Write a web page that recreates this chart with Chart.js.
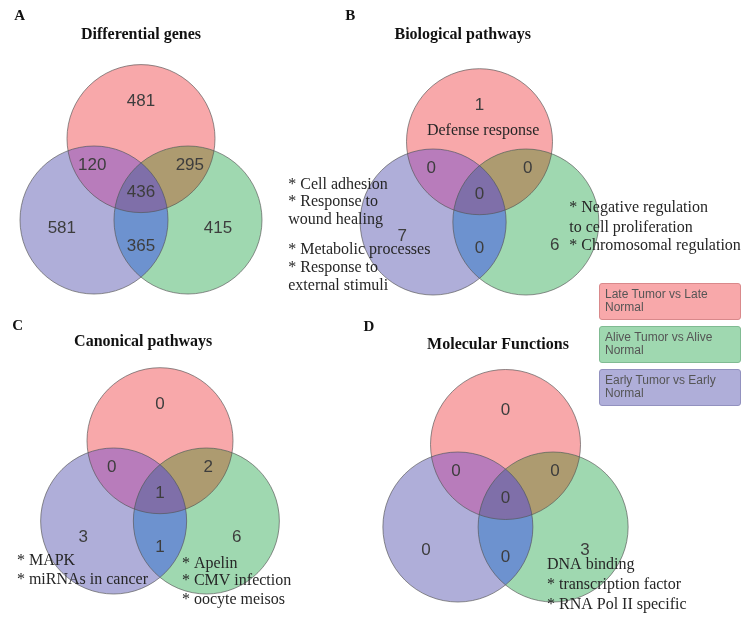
<!DOCTYPE html>
<html>
<head>
<meta charset="utf-8">
<script src="https://cdn.jsdelivr.net/npm/chart.js@4.4.1/dist/chart.umd.min.js"></script>
<style>
  html, body { margin: 0; padding: 0; background: #fff; }
  #wrap { position: relative; width: 744px; height: 617px; overflow: hidden; }
  #wrap canvas { position: absolute; left: 0; top: 0; }
  #legend { position: absolute; left: 599px; top: 283px; width: 142px; }
  #legend div {
    box-sizing: border-box; height: 37px; margin-bottom: 6px;
    border: 1px solid; border-radius: 3px; padding: 4px 0 0 5px;
    font: 12px/13px "Liberation Sans", Arial, sans-serif; color: #555;
  }
</style>
</head>
<body>
<div id="wrap">
  <canvas id="venn-a" width="744" height="617"></canvas>
  <canvas id="venn-b" width="744" height="617"></canvas>
  <canvas id="venn-c" width="744" height="617"></canvas>
  <canvas id="venn-d" width="744" height="617"></canvas>
  <div id="legend"></div>
</div>
<script>
/* ─── Data ───────────────────────────────────────────────────────────────── */
const setNames   = ['Late Tumor vs Late Normal', 'Alive Tumor vs Alive Normal', 'Early Tumor vs Early Normal'];
const setColors  = ['#f8a8aa', '#9fd8b0', '#afaed9'];
const setBorders = ['#d9898b', '#80bb92', '#9291bf'];

// region order: late only, alive only, early only, late+early, late+alive, early+alive, all three
const regionKeys = ['L', 'A', 'E', 'LE', 'LA', 'EA', 'LAE'];
const countsA = [481, 415, 581, 120, 295, 365, 436];
const countsB = [1, 6, 7, 0, 0, 0, 0];
const countsC = [0, 6, 3, 0, 2, 1, 1];
const countsD = [0, 3, 0, 0, 0, 0, 0];

const panelTitles  = ['Differential genes', 'Biological pathways', 'Canonical pathways', 'Molecular Functions'];
const panelLetters = ['A', 'B', 'C', 'D'];

const notesB = [
  '* Cell adhesion', '* Response to', 'wound healing',
  '* Metabolic processes', '* Response to', 'external stimuli',
  '* Negative regulation', 'to cell proliferation', '* Chromosomal regulation',
  'Defense response'
];
const notesC = ['* MAPK', '* miRNAs in cancer', '* Apelin', '* CMV infection', '* oocyte meisos'];
const notesD = ['DNA binding', '* transcription factor', '* RNA Pol II specific'];

/* ─── Layout (venn units: circle radius = 1) ─────────────────────────────── */
const W = 744, H = 617;
const centers = [[0, 1.1], [0.635, 0], [-0.635, 0]];   // late, alive, early
const overlapColors = { LE: '#b87cbb', LA: '#ad9b70', EA: '#6d92cf', LAE: '#7f6fa9' };
const regionPos = {
  L: [0, 1.6], A: [1.05, -0.2], E: [-1.06, -0.2],
  LE: [-0.66, 0.74], LA: [0.66, 0.74], EA: [0, -0.36], LAE: [0, 0.38]
};

const panels = [
  { id: 'venn-a', counts: countsA, geom: { ox: 141, oy: 220, r: 74 },
    title: [0, 2.5], letter: [-1.64, 2.76],
    at: { A: [1.04, -0.11], E: [-1.07, -0.11] }, notes: [] },
  { id: 'venn-b', counts: countsB, geom: { ox: 479.5, oy: 222, r: 73 },
    title: [-0.23, 2.56], letter: [-1.77, 2.82],
    at: { A: [1.03, -0.32], E: [-1.06, -0.2] },
    notes: [
      [-2.62, 0.51, 'left'], [-2.62, 0.27, 'left'], [-2.62, 0.03, 'left'],
      [-2.62, -0.38, 'left'], [-2.62, -0.63, 'left'], [-2.62, -0.88, 'left'],
      [1.23, 0.19, 'left'], [1.23, -0.08, 'left'], [1.23, -0.33, 'left'],
      [0.05, 1.25, 'center']
    ].map((n, i) => [...n, notesB[i]]) },
  { id: 'venn-c', counts: countsC, geom: { ox: 160, oy: 521, r: 73 },
    title: [-0.23, 2.45], letter: [-1.95, 2.67],
    at: { A: [1.05, -0.23], E: [-1.05, -0.23] },
    notes: [
      [-1.96, -0.55, 'left'], [-1.96, -0.81, 'left'],
      [0.30, -0.58, 'left'], [0.30, -0.82, 'left'], [0.30, -1.08, 'left']
    ].map((n, i) => [...n, notesC[i]]) },
  { id: 'venn-d', counts: countsD, geom: { ox: 505.5, oy: 527, r: 75 },
    title: [-0.1, 2.43], letter: [-1.82, 2.67],
    at: { A: [1.06, -0.31], E: [-1.06, -0.31], EA: [0, -0.4], L: [0, 1.56] },
    notes: [
      [0.553, -0.51, 'left'], [0.553, -0.77, 'left'], [0.553, -1.04, 'left']
    ].map((n, i) => [...n, notesD[i]]) }
];

/* ─── Helpers ────────────────────────────────────────────────────────────── */
const SANS  = '"Liberation Sans", Arial, sans-serif';
const SERIF = '"Liberation Serif", "Times New Roman", serif';

function unitPx(chart) {
  const x = chart.scales.x;
  return x.getPixelForValue(1) - x.getPixelForValue(0);
}

function vennPlugin(p) {
  return {
    id: 'vennExtras',
    afterDatasetsDraw(chart) {
      const ctx = chart.ctx;
      const xs = chart.scales.x, ys = chart.scales.y;
      const pts = chart.getDatasetMeta(0).data;
      const R = unitPx(chart);
      const circle = i => { ctx.beginPath(); ctx.arc(pts[i].x, pts[i].y, R, 0, Math.PI * 2); };

      /* overlaps */
      [[0, 2, 'LE'], [0, 1, 'LA'], [2, 1, 'EA']].forEach(([i, j, k]) => {
        ctx.save(); circle(i); ctx.clip(); circle(j);
        ctx.fillStyle = overlapColors[k]; ctx.fill(); ctx.restore();
      });
      ctx.save(); circle(0); ctx.clip(); circle(1); ctx.clip(); circle(2);
      ctx.fillStyle = overlapColors.LAE; ctx.fill(); ctx.restore();

      /* outlines */
      ctx.save();
      ctx.strokeStyle = 'rgba(85,85,85,0.65)';
      ctx.lineWidth = 1;
      [0, 1, 2].forEach(i => { circle(i); ctx.stroke(); });
      ctx.restore();

      const px = v => xs.getPixelForValue(v[0]);
      const py = v => ys.getPixelForValue(v[1]);

      ctx.save();
      ctx.textBaseline = 'middle';

      /* region counts */
      ctx.textAlign = 'center';
      ctx.fillStyle = '#3d3d3d';
      ctx.font = `17px ${SANS}`;
      regionKeys.forEach((k, i) => {
        const pos = p.at[k] || regionPos[k];
        ctx.fillText(String(p.counts[i]), px(pos), py(pos));
      });

      /* notes */
      ctx.fillStyle = '#262626';
      ctx.font = `16px ${SERIF}`;
      p.notes.forEach(([x, y, align, txt]) => {
        ctx.textAlign = align;
        ctx.fillText(txt, px([x, y]), py([x, y]));
      });

      /* title and panel letter */
      ctx.fillStyle = '#111';
      ctx.textAlign = 'center';
      ctx.font = `bold 16px ${SERIF}`;
      ctx.fillText(panelTitles[p.index], px(p.title), py(p.title));
      ctx.font = `bold 15px ${SERIF}`;
      ctx.fillText(panelLetters[p.index], px(p.letter), py(p.letter));
      ctx.restore();
    }
  };
}

/* ─── Charts ─────────────────────────────────────────────────────────────── */
panels.forEach((p, index) => {
  p.index = index;
  const { ox, oy, r } = p.geom;
  new Chart(document.getElementById(p.id), {
    type: 'scatter',
    data: {
      datasets: [{
        data: centers.map(c => ({ x: c[0], y: c[1] })),
        backgroundColor: setColors,
        borderWidth: 0,
        pointRadius: ctx => unitPx(ctx.chart),
        pointHoverRadius: ctx => unitPx(ctx.chart),
        clip: false
      }]
    },
    options: {
      responsive: false,
      animation: false,
      events: [],
      layout: { padding: 0 },
      plugins: { legend: { display: false }, tooltip: { enabled: false } },
      scales: {
        x: { type: 'linear', display: false, min: -ox / r, max: (W - ox) / r },
        y: { type: 'linear', display: false, min: -(H - oy) / r, max: oy / r }
      }
    },
    plugins: [vennPlugin(p)]
  });
});

/* ─── Legend ─────────────────────────────────────────────────────────────── */
const legend = document.getElementById('legend');
setNames.forEach((name, i) => {
  const el = document.createElement('div');
  el.textContent = name;
  el.style.background  = setColors[i];
  el.style.borderColor = setBorders[i];
  legend.appendChild(el);
});
</script>
</body>
</html>
